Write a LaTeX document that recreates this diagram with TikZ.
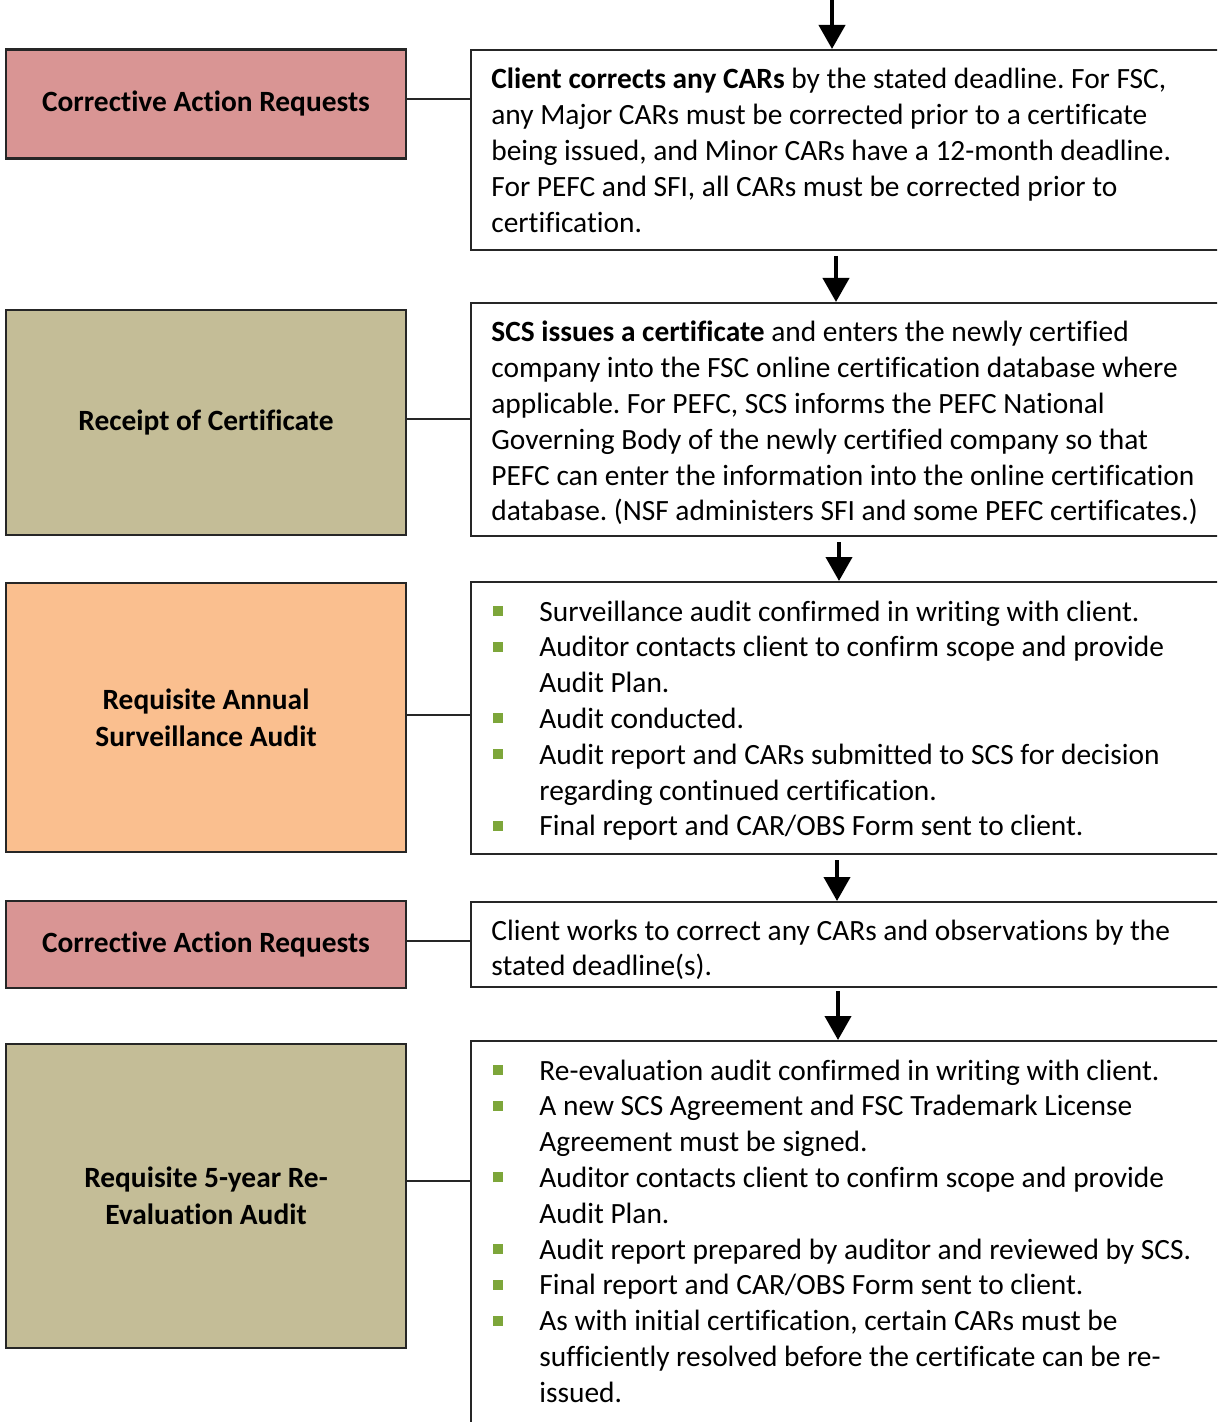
\documentclass[tikz,border=0pt]{standalone}
\usepackage{fontspec}
\setmainfont{Carlito}[Ligatures=NoCommon]
\usetikzlibrary{arrows.meta}
\definecolor{carred}{HTML}{D99594}
\definecolor{khaki}{HTML}{C4BD97}
\definecolor{peach}{HTML}{FABF8F}
\definecolor{bulgreen}{HTML}{7DA63A}
\frenchspacing
\newcommand\bodyfont{\fontsize{14.7}{17.9}\selectfont}
\newcommand\bul{\hbox to 24pt{\hspace{1pt}\textcolor{bulgreen}{\rule[2.5pt]{5pt}{5pt}}\hfil}}
\newcommand\cont{\hspace*{24pt}}
\newcommand\lineT[1]{\hbox{\strut #1}}
\begin{document}
\begin{tikzpicture}[x=0.5pt,y=-0.5pt,
  leftbox/.style={draw=black!85, line width=1.2pt, minimum width=200pt, align=center,
    font=\bodyfont\bfseries, inner sep=0pt},
  rightbox/.style={draw=black!85, line width=1pt, minimum width=384.5pt, inner sep=0pt},
  txt/.style={anchor=base west, inner sep=0pt, font=\bodyfont},
  conn/.style={draw=black!85, line width=1pt},
  arr/.style={line width=2pt, -{Triangle[width=13pt,length=12pt]}}]
\useasboundingbox (0,0) rectangle (1217,1422);
\begin{scope}
\clip (0,0) rectangle (1217,1422);
% left boxes
\node[leftbox, fill=carred, minimum height=54.5pt] (car1) at (206,104) {Corrective Action Requests};
\node[leftbox, fill=khaki, minimum height=112.5pt] (rec) at (206,422.5) {Receipt of Certificate};
\node[leftbox, fill=peach, minimum height=134.5pt] (surv) at (206,717.5) {Requisite Annual\\[0.5pt]Surveillance Audit};
\node[leftbox, fill=carred, minimum height=43.5pt] (car2) at (206,944.5) {Corrective Action Requests};
\node[leftbox, fill=khaki, minimum height=152pt] (reev) at (206,1196) {Requisite 5-year Re-\\[0.5pt]Evaluation Audit};
% right boxes
\node[rightbox, minimum height=100pt] (b1) at (855.5,150) {};
\node[rightbox, minimum height=116.5pt] (b2) at (855.5,419.5) {};
\node[rightbox, minimum height=136pt] (b3) at (855.5,718) {};
\node[rightbox, minimum height=42.5pt] (b4) at (855.5,944.5) {};
\node[rightbox, minimum height=204.5pt] (b5) at (855.5,1245.5) {};
% texts
\node[txt] (t1) at (491,89) {\vtop{%
\lineT{\textbf{Client corrects any CARs} by the stated deadline. For FSC,}
\lineT{any Major CARs must be corrected prior to a certificate}
\lineT{being issued, and Minor CARs have a 12-month deadline.}
\lineT{For PEFC and SFI, all CARs must be corrected prior to}
\lineT{certification.}}};
\node[txt] (t2) at (491,342) {\vtop{%
\lineT{\textbf{SCS issues a certificate} and enters the newly certified}
\lineT{company into the FSC online certification database where}
\lineT{applicable. For PEFC, SCS informs the PEFC National}
\lineT{Governing Body of the newly certified company so that}
\lineT{PEFC can enter the information into the online certification}
\lineT{database. (NSF administers SFI and some PEFC certificates.)}}};
\node[txt] (t3) at (491,621) {\vtop{%
\lineT{\bul Surveillance audit confirmed in writing with client.}
\lineT{\bul Auditor contacts client to confirm scope and provide}
\lineT{\cont Audit Plan.}
\lineT{\bul Audit conducted.}
\lineT{\bul Audit report and CARs submitted to SCS for decision}
\lineT{\cont regarding continued certification.}
\lineT{\bul Final report and CAR/OBS Form sent to client.}}};
\node[txt] (t4) at (491,940) {\vtop{%
\lineT{Client works to correct any CARs and observations by the}
\lineT{stated deadline(s).}}};
\node[txt] (t5) at (491,1080) {\vtop{%
\lineT{\bul Re-evaluation audit confirmed in writing with client.}
\lineT{\bul A new SCS Agreement and FSC Trademark License}
\lineT{\cont Agreement must be signed.}
\lineT{\bul Auditor contacts client to confirm scope and provide}
\lineT{\cont Audit Plan.}
\lineT{\bul Audit report prepared by auditor and reviewed by SCS.}
\lineT{\bul Final report and CAR/OBS Form sent to client.}
\lineT{\bul As with initial certification, certain CARs must be}
\lineT{\cont sufficiently resolved before the certificate can be re-}
\lineT{\cont issued.}}};
% connectors
\draw[conn] ([yshift=2.5pt]car1.east) -- ([yshift=2.5pt]car1.east -| b1.west);
\draw[conn] ([yshift=1.75pt]rec.east) -- ([yshift=1.75pt]rec.east -| b2.west);
\draw[conn] ([yshift=1.25pt]surv.east) -- ([yshift=1.25pt]surv.east -| b3.west);
\draw[conn] ([yshift=1.75pt]car2.east) -- ([yshift=1.75pt]car2.east -| b4.west);
\draw[conn] ([yshift=7.5pt]reev.east) -- ([yshift=7.5pt]reev.east -| b5.west);
% arrows
\coordinate (top) at (832,0);
\coordinate (x2) at (836,0);
\coordinate (x3) at (839,0);
\coordinate (x4) at (837,0);
\coordinate (x5) at (838,0);
\draw[arr] (top) -- (top |- b1.north);
\draw[arr, shorten <=2.5pt] (x2 |- b1.south) -- (x2 |- b2.north);
\draw[arr, shorten <=2.5pt] (x3 |- b2.south) -- (x3 |- b3.north);
\draw[arr, shorten <=2.5pt] (x4 |- b3.south) -- (x4 |- b4.north);
\draw[arr, shorten <=1.5pt] (x5 |- b4.south) -- (x5 |- b5.north);
\end{scope}
\end{tikzpicture}
\end{document}
